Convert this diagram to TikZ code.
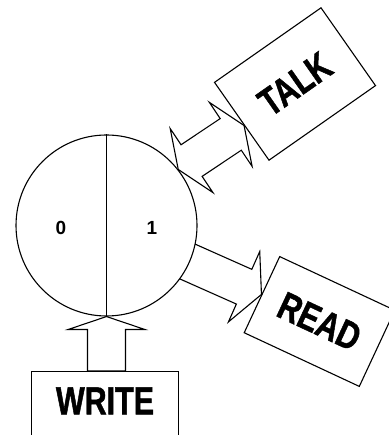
\documentclass[tikz,border=0pt]{standalone}
\usepackage{fontspec}
\setmainfont{Liberation Sans}
\newfontfamily\boxfont{Liberation Sans}[FakeStretch=0.78, BoldFeatures={FakeBold=1.2}]
\usetikzlibrary{calc,backgrounds}

\tikzset{
  cellline/.style={line width=1.1pt},
  bigbox/.style={draw, line width=1.1pt, inner sep=0pt,
    font=\boxfont\bfseries\fontsize{39}{39}\selectfont},
  bitlabel/.style={inner sep=0pt, font=\bfseries\fontsize{19}{19}\selectfont},
  blockline/.style={line width=1.1pt, line join=miter, miter limit=20},
}

% block arrow with one head: #2 tail, #3 tip, #1 head length
\newcommand{\blockarrow}[3][16pt]{%
  \path ($(#3)!#1!(#2)$) coordinate (hb);
  \draw[blockline] (#3) -- ($(hb)!\headhalf!90:(#3)$) -- ($(hb)!\shafthalf!90:(#3)$)
    -- ($(#2)!\shafthalf!90:(#3)$) -- ($(#2)!\shafthalf!-90:(#3)$)
    -- ($(hb)!\shafthalf!-90:(#3)$) -- ($(hb)!\headhalf!-90:(#3)$) -- cycle;
}
% block arrow with two heads between #2 and #3
\newcommand{\blockdouble}[3][16pt]{%
  \path ($(#3)!#1!(#2)$) coordinate (hb) ($(#2)!#1!(#3)$) coordinate (ha);
  \draw[blockline] (#3) -- ($(hb)!\headhalf!90:(#3)$) -- ($(hb)!\shafthalf!90:(#3)$)
    -- ($(ha)!\shafthalf!90:(#3)$) -- ($(ha)!\headhalf!90:(#3)$) -- (#2)
    -- ($(ha)!\headhalf!-90:(#3)$) -- ($(ha)!\shafthalf!-90:(#3)$)
    -- ($(hb)!\shafthalf!-90:(#3)$) -- ($(hb)!\headhalf!-90:(#3)$) -- cycle;
}

\begin{document}
\begin{tikzpicture}[x=1pt,y=1pt]
\useasboundingbox (0,0) rectangle (388,435);

% Arrow sizes
\def\headhalf{38.5pt}
\def\shafthalf{19pt}

% The bit cell
\node[draw, circle, fill=white, cellline, minimum size=181pt, inner sep=0pt] (bit) at (106.5,209.5) {};
\draw[cellline] (bit.north) -- (bit.south);
\node[bitlabel] (zero) at (61,207) {0};
\node[bitlabel] (one) at (152,207) {1};

% Operation boxes
\node[bigbox, minimum width=147pt, text height=42.7pt, text depth=30pt, anchor=base] (write) at (105,20.7) {WRITE};
\node[bigbox, minimum width=130pt, minimum height=95pt, rotate=35] (talk) at (295,351) {TALK};
\node[bigbox, minimum width=127pt, minimum height=84pt, rotate=-25] (read) at (319.5,113.5) {READ};

% Block arrows
\coordinate (wtail) at (write.north -| bit.south);
\blockarrow[13pt]{wtail}{bit.south}

\coordinate (ttip) at ($(talk.west)!0.1!(talk.south west)$);
\blockdouble{bit.38}{ttip}

\begin{scope}[on background layer]
\blockarrow[19pt]{bit.center}{read.west}
\end{scope}

\end{tikzpicture}
\end{document}
